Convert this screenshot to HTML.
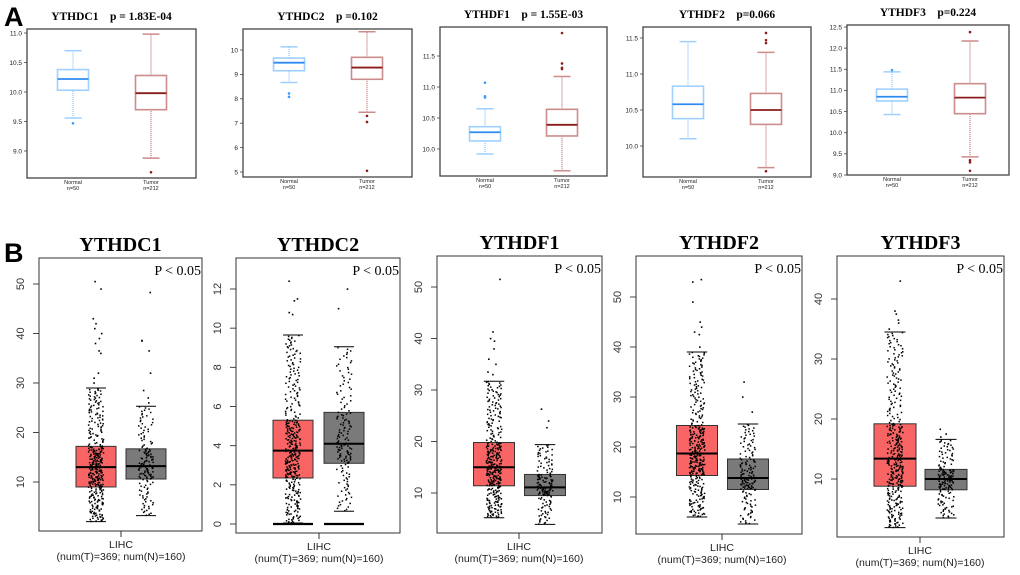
<!DOCTYPE html>
<html><head><meta charset="utf-8">
<style>
html,body{margin:0;padding:0;background:#fff;width:1020px;height:575px;overflow:hidden}
svg{display:block}
</style></head>
<body>
<svg id="fig" width="1020" height="575" viewBox="0 0 1020 575" xmlns="http://www.w3.org/2000/svg">
<text x="4" y="26" font-family="Liberation Sans, sans-serif" font-weight="bold" font-size="27">A</text>
<text x="4" y="262" font-family="Liberation Sans, sans-serif" font-weight="bold" font-size="27">B</text>
<g id="gA"></g>
<g id="gB"></g>
</svg>
<script>
// ---------- Panel A data (five-number summaries: [whiskerLow, q1, median, q3, whiskerHigh]) ----------
const aGenes = ["YTHDC1","YTHDC2","YTHDF1","YTHDF2","YTHDF3"];
const aPvals = ["p = 1.83E-04","p =0.102","p = 1.55E-03","p=0.066","p=0.224"];
const aNormal = [
  [9.56,10.03,10.22,10.38,10.70],
  [8.67,9.15,9.48,9.67,10.13],
  [9.92,10.13,10.27,10.36,10.65],
  [10.10,10.38,10.58,10.83,11.45],
  [10.43,10.75,10.85,11.03,11.44]
];
const aTumor = [
  [8.88,9.70,9.98,10.28,10.98],
  [7.45,8.80,9.28,9.70,10.75],
  [9.65,10.21,10.39,10.64,11.17],
  [9.70,10.30,10.50,10.73,11.30],
  [9.43,10.45,10.83,11.16,12.17]
];
const aNormalOut = [[9.47],[8.22,8.08],[10.83,10.85,11.07],[],[11.48]];
const aTumorOut = [[8.64],[7.30,7.05,5.05],[11.29,11.31,11.38,11.87],[11.43,11.47,11.57,9.65],[12.38,9.35,9.30,9.10]];
const aTicks = [
  ["9.0","9.5","10.0","10.5","11.0"],
  ["5","6","7","8","9","10"],
  ["10.0","10.5","11.0","11.5"],
  ["10.0","10.5","11.0","11.5"],
  ["9.0","9.5","10.0","10.5","11.0","11.5","12.0","12.5"]
];
// ---------- Panel B data ----------
const bGenes = ["YTHDC1","YTHDC2","YTHDF1","YTHDF2","YTHDF3"];
const bTumor = [
  [2,9,13,17.2,29],
  [0.05,2.35,3.75,5.3,9.65],
  [5.2,11.4,15,19.8,31.7],
  [6,14.3,18.7,24.3,39],
  [1.9,8.8,13.4,19.2,34.5]
];
const bNormal = [
  [3.2,10.6,13.2,16.7,25.3],
  [0.65,3.1,4.1,5.7,9.05],
  [3.9,9.5,11.1,13.6,19.4],
  [4.6,11.5,13.8,17.6,24.6],
  [3.5,8.2,10,11.6,16.6]
];
const bTumorOut = [
  [30,31,32,36,36.5,38,39,40,41,42,43,49,50.5],
  [10.7,10.8,11.4,11.5,12.4],
  [33,33.5,35,36,38,39.5,40,41.3,51.5],
  [40,42.5,43,44,45,49,53,53.5],
  [35,36,36.5,37.5,38,43]
];
const bNormalOut = [
  [26,27,28.5,32,36.5,38.5,38.6,48.3],
  [11,12],
  [22.7,24,26.3],
  [27,30,33],
  [17,17.5,18.3]
];
const bTicks = [
  ["10","20","30","40","50"],
  ["0","2","4","6","8","10","12"],
  ["10","20","30","40","50"],
  ["10","20","30","40","50"],
  ["10","20","30","40"]
];
const nTumor = 369, nNormal = 160;

// ---------- layout (not data) ----------
const aLayout = [
  {x0:27,x1:196,y0:29,y1:178,v0:9.0,p0:151,v1:11.0,p1:33,cN:73,cT:151,bw:31},
  {x0:243,x1:412,y0:29,y1:177,v0:5,p0:172,v1:10,p1:50,cN:289,cT:367,bw:31},
  {x0:440,x1:607,y0:27,y1:176,v0:10.0,p0:149,v1:11.5,p1:56,cN:485,cT:562,bw:31},
  {x0:643,x1:811,y0:27,y1:177,v0:10.0,p0:146,v1:11.5,p1:38,cN:688,cT:766,bw:31},
  {x0:847,x1:1009,y0:25,y1:175,v0:9.0,p0:175,v1:12.5,p1:27,cN:892,cT:970,bw:31}
];
const bLayout = [
  {x0:39,x1:202,y0:258,y1:531,v0:10,p0:482,v1:50,p1:284,cT:96,cN:146,bw:40,tc:121},
  {x0:236,x1:400,y0:258,y1:533,v0:0,p0:524,v1:12,p1:289,cT:293,cN:344,bw:40,tc:319},
  {x0:437,x1:602,y0:256,y1:533,v0:10,p0:493,v1:50,p1:287,cT:494,cN:545,bw:41,tc:519},
  {x0:636,x1:802,y0:256,y1:534,v0:10,p0:497,v1:50,p1:297,cT:697,cN:748,bw:41,tc:722},
  {x0:837,x1:1004,y0:256,y1:537,v0:10,p0:479,v1:40,p1:299,cT:895,cN:946,bw:42,tc:920}
];
const NS="http://www.w3.org/2000/svg";
function mk(tag, attrs, parent){const e=document.createElementNS(NS,tag);for(const k in attrs)e.setAttribute(k,attrs[k]);parent.appendChild(e);return e;}
function scaleY(L){return v=>L.p0+(v-L.v0)*(L.p1-L.p0)/(L.v1-L.v0);}
const serif="Liberation Serif, serif", sans="Liberation Sans, sans-serif";

// ---------- Panel A ----------
const gA=document.getElementById('gA');
aGenes.forEach((g,i)=>{
  const L=aLayout[i], y=scaleY(L);
  const grp=mk('g',{},gA);
  
  
  const t=mk('text',{x:(L.x0+L.x1)/2,y:L.y0-9,'text-anchor':'middle','font-family':serif,'font-weight':'bold','font-size':11.5},grp);
  t.textContent=g+'\u00a0\u00a0\u00a0\u00a0'+aPvals[i];
  
  
  const fr=mk('rect',{x:L.x0,y:L.y0,width:L.x1-L.x0,height:L.y1-L.y0,fill:'none',stroke:'#444','stroke-width':1.3},grp);
  
  
  aTicks[i].forEach(s=>{
    const v=parseFloat(s), yy=y(v);
    mk('line',{x1:L.x0-3,x2:L.x0,y1:yy,y2:yy,stroke:'#444','stroke-width':0.8},grp);
    const tl=mk('text',{x:L.x0-5,y:yy+2.3,'text-anchor':'end','font-family':sans,'font-size':6.5,fill:'#222'},grp);
    tl.textContent=s;
    
    
  });
  [[aNormal[i],aNormalOut[i],L.cN,'#9fd0ff','#2e8cf0','#3d99ff','Normal','n=50'],
   [aTumor[i],aTumorOut[i],L.cT,'#cc8c8c','#8b1c1c','#8b1c1c','Tumor','n=212']].forEach(([d,out,cx,lc,mc,oc,lab,n])=>{
    const bg=mk('g',{},grp);
    
    
    const hw=L.bw/2;
    mk('line',{x1:cx,x2:cx,y1:y(d[0]),y2:y(d[1]),stroke:lc,'stroke-width':1.5,'stroke-dasharray':'1 1'},bg);
    mk('line',{x1:cx,x2:cx,y1:y(d[3]),y2:y(d[4]),stroke:lc,'stroke-width':1.5,'stroke-dasharray':'1 1'},bg);
    mk('line',{x1:cx-hw*0.55,x2:cx+hw*0.55,y1:y(d[0]),y2:y(d[0]),stroke:lc,'stroke-width':1.5},bg);
    mk('line',{x1:cx-hw*0.55,x2:cx+hw*0.55,y1:y(d[4]),y2:y(d[4]),stroke:lc,'stroke-width':1.5},bg);
    mk('rect',{x:cx-hw,y:y(d[3]),width:L.bw,height:y(d[1])-y(d[3]),fill:'#fff',stroke:lc,'stroke-width':1.6},bg);
    mk('line',{x1:cx-hw,x2:cx+hw,y1:y(d[2]),y2:y(d[2]),stroke:mc,'stroke-width':1.8},bg);
    out.forEach(v=>{const c=mk('circle',{cx:cx,cy:y(v),r:1.3,fill:oc},bg);
      
      });
    const l1=mk('text',{x:cx,y:L.y1+6,'text-anchor':'middle','font-family':sans,'font-size':5.5,fill:'#222'},grp);
    l1.textContent=lab;
    
    
    const l2=mk('text',{x:cx,y:L.y1+12,'text-anchor':'middle','font-family':sans,'font-size':5.5,fill:'#222'},grp);
    l2.textContent=n;
    
    
  });
});

// ---------- Panel B ----------
const gB=document.getElementById('gB');
function hash(k){let x=Math.sin(k*12.9898+78.233)*43758.5453;return x-Math.floor(x);}
function quant(d,q){ // piecewise through 5-number summary
  const qs=[0,0.25,0.5,0.75,1];
  for(let j=0;j<4;j++){ if(q<=qs[j+1]) return d[j]+(d[j+1]-d[j])*(q-qs[j])/(qs[j+1]-qs[j]); }
  return d[4];
}
bGenes.forEach((g,i)=>{
  const L=bLayout[i], y=scaleY(L);
  const grp=mk('g',{},gB);
  
  
  const t=mk('text',{x:(L.x0+L.x1)/2,y:L.y0-7,'text-anchor':'middle','font-family':serif,'font-weight':'bold','font-size':20},grp);
  t.textContent=g;
  
  
  const p=mk('text',{x:L.x1-1,y:L.y0+17,'text-anchor':'end','font-family':serif,'font-size':14},grp);
  p.textContent='P < 0.05';
  
  
  bTicks[i].forEach(s=>{
    const v=parseFloat(s), yy=y(v);
    mk('line',{x1:L.x0-6,x2:L.x0,y1:yy,y2:yy,stroke:'#333','stroke-width':0.9},grp);
    const tl=mk('text',{x:L.x0-15,y:yy,'text-anchor':'middle','font-family':sans,'font-size':11,fill:'#333',transform:`rotate(-90 ${L.x0-15} ${yy})`},grp);
    tl.textContent=s;
    
    
  });
  [[bTumor[i],bTumorOut[i],L.cT,'#f96565',nTumor,'tumor'],[bNormal[i],bNormalOut[i],L.cN,'#7a7a7a',nNormal,'normal']].forEach(([d,out,cx,col,n,nm],k)=>{
    const bg=mk('g',{},grp);
    
    
    const hw=L.bw/2;
    mk('rect',{x:cx-hw,y:y(d[3]),width:L.bw,height:y(d[1])-y(d[3]),fill:col,stroke:'#333','stroke-width':1},bg);
    mk('line',{x1:cx-hw,x2:cx+hw,y1:y(d[2]),y2:y(d[2]),stroke:'#000','stroke-width':2},bg);
    mk('line',{x1:cx-hw*0.5,x2:cx+hw*0.5,y1:y(d[0]),y2:y(d[0]),stroke:'#000','stroke-width':1},bg);
    mk('line',{x1:cx-hw*0.5,x2:cx+hw*0.5,y1:y(d[4]),y2:y(d[4]),stroke:'#000','stroke-width':1},bg);
    if(i===1){ mk('line',{x1:cx-hw,x2:cx+hw,y1:y(0),y2:y(0),stroke:'#000','stroke-width':2.2},bg); }
    const pts=mk('g',{fill:'#000'},bg);
    
    
    const m=n-out.length;
    for(let j=0;j<m;j++){
      const v=quant(d,(j+0.5)/m);
      const jx=(hash(j*7+i*131+k*977)-0.5)*hw*0.75;
      mk('rect',{x:cx+jx-0.7,y:y(v)-0.7,width:1.5,height:1.5},pts);
    }
    out.forEach((v,j)=>{
      const jx=(hash(j*3+i*17+k*51+500)-0.5)*hw*0.6;
      mk('rect',{x:cx+jx-0.7,y:y(v)-0.7,width:1.6,height:1.6},pts);
    });
  });
  const fr=mk('rect',{x:L.x0,y:L.y0,width:L.x1-L.x0,height:L.y1-L.y0,fill:'none',stroke:'#333','stroke-width':1},grp);
  
  
  mk('line',{x1:L.tc,x2:L.tc,y1:L.y1,y2:L.y1+6,stroke:'#333','stroke-width':1},grp);
  const x1=mk('text',{x:L.tc,y:L.y1+17,'text-anchor':'middle','font-family':sans,'font-size':10.5,fill:'#222'},grp);
  x1.textContent='LIHC';
  
  
  const x2=mk('text',{x:L.tc,y:L.y1+29,'text-anchor':'middle','font-family':sans,'font-size':10.5,fill:'#222'},grp);
  x2.textContent='(num(T)='+nTumor+'; num(N)='+nNormal+')';
  
  
});
</script>
</body></html>
